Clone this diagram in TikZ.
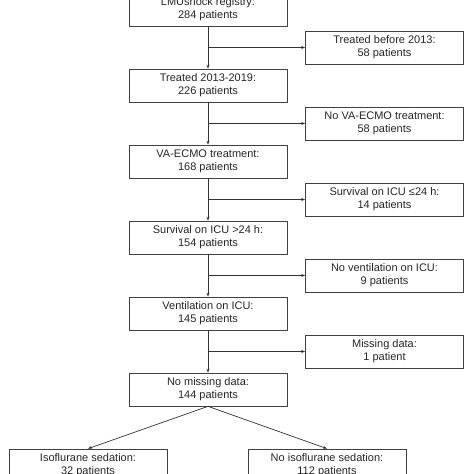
\documentclass[tikz,border=0pt]{standalone}
\usepackage{fontspec}
\setmainfont{Liberation Sans}
\usetikzlibrary{arrows.meta}
\begin{document}
\begin{tikzpicture}[x=1pt,y=-1pt,
  box/.style={draw=black!75,line width=0.7pt,minimum width=158pt,minimum height=33pt,
    align=center,inner sep=0pt,font=\fontsize{11}{13}\selectfont,text=black!85},
  conn/.style={draw=black!80,line width=0.7pt,-{Stealth[length=4pt,width=3pt]}}]
\useasboundingbox (0,0) rectangle (474,474);
\fill[white] (0,0) rectangle (474,474);
\node[box] (m1) at (208,9.5) {LMUshock registry:\\284 patients};
\node[box] (m2) at (208,85.5) {Treated 2013-2019:\\226 patients};
\node[box] (m3) at (208,161.5) {VA-ECMO treatment:\\168 patients};
\node[box] (m4) at (208,237.5) {Survival on ICU >24 h:\\154 patients};
\node[box] (m5) at (208,313.5) {Ventilation on ICU:\\145 patients};
\node[box] (m6) at (208,389.5) {No missing data:\\144 patients};
\node[box] (s1) at (384.5,47.5) {Treated before 2013:\\58 patients};
\node[box] (s2) at (384.5,123.5) {No VA-ECMO treatment:\\58 patients};
\node[box] (s3) at (384.5,199.5) {Survival on ICU ≤24 h:\\14 patients};
\node[box] (s4) at (384.5,275.5) {No ventilation on ICU:\\9 patients};
\node[box] (s5) at (384.5,351.5) {Missing data:\\1 patient};
\node[box] (l) at (88,465.5) {Isoflurane sedation:\\32 patients};
\node[box] (r) at (327,465.5) {No isoflurane sedation:\\112 patients};
\foreach \a/\b/\s in {m1/m2/s1,m2/m3/s2,m3/m4/s3,m4/m5/s4,m5/m6/s5}{
  \draw[conn] (\a.south) -- (\b.north);
  \draw[conn] (\a.south |- \s.west) -- (\s.west);
}
\draw[conn] (m6.south) -- (l.north);
\draw[conn] (m6.south) -- (r.north);
\end{tikzpicture}
\end{document}
